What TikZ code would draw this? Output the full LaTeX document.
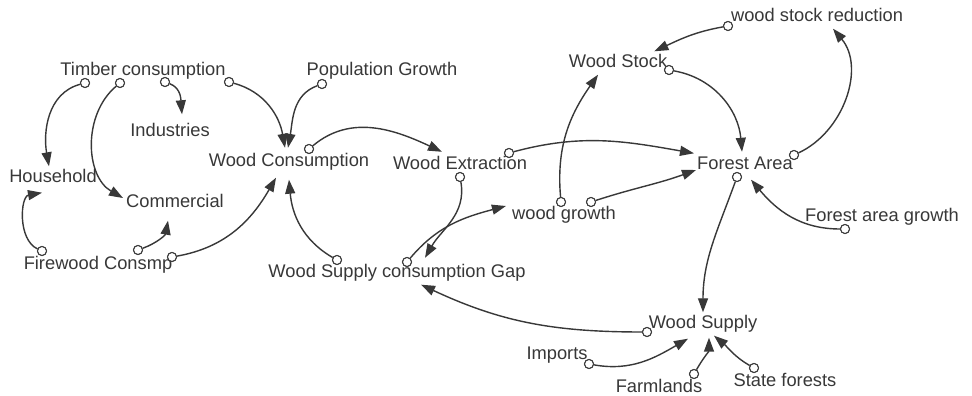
\documentclass[tikz,border=0pt]{standalone}
\usepackage{fontspec}
\setmainfont{Liberation Sans}
\usetikzlibrary{arrows.meta}
\definecolor{ink}{HTML}{383838}
\begin{document}
\begin{tikzpicture}[x=1pt,y=1pt,
  lbl/.style={font=\fontsize{18.3}{20}\selectfont, text=ink, inner sep=3pt, text height=13pt, text depth=4pt},
  dot/.style={circle, draw=ink, line width=1pt, fill=white, minimum size=9pt, inner sep=0pt},
  link/.style={draw=ink, line width=1.4pt, -{Triangle[length=14pt,width=10pt]}}]
\useasboundingbox[fill=white] (0,0) rectangle (972,396);
% variables
\node[lbl] (tc)   at (143,325) {Timber consumption};
\node[lbl] (ind)  at (170,264) {Industries};
\node[lbl] (hh)   at (53,218)  {Household};
\node[lbl] (com)  at (175,193) {Commercial};
\node[lbl] (fw)   at (98,131)  {Firewood Consmp};
\node[lbl] (wc)   at (289,234) {Wood Consumption};
\node[lbl] (pg)   at (382,325) {Population Growth};
\node[lbl] (we)   at (460,231) {Wood Extraction};
\node[lbl] (wg)   at (564,181) {wood growth};
\node[lbl] (gap)  at (397,123) {Wood Supply consumption Gap};
\node[lbl] (ws)   at (618,333) {Wood Stock};
\node[lbl] (wsr)  at (817,379) {wood stock reduction};
\node[lbl] (fa)   at (745,231) {Forest Area};
\node[lbl] (fag)  at (882,179) {Forest area growth};
\node[lbl] (sup)  at (703,72)  {Wood Supply};
\node[lbl] (imp)  at (557,41)  {Imports};
\node[lbl] (farm) at (659,8)   {Farmlands};
\node[lbl] (sf)   at (785,14)  {State forests};
% connector tails
\node[dot] (c1)  at (85,313)  {};
\node[dot] (c2)  at (120,313) {};
\node[dot] (c3)  at (165,314) {};
\node[dot] (c4)  at (229,314) {};
\node[dot] (c5)  at (322,312) {};
\node[dot] (c6)  at (42,145)  {};
\node[dot] (c7)  at (138,146) {};
\node[dot] (c8)  at (172,139) {};
\node[dot] (c9)  at (337,136) {};
\node[dot] (c10) at (309,247) {};
\node[dot] (c11) at (460,219) {};
\node[dot] (c12) at (407,134) {};
\node[dot] (c13) at (509,243) {};
\node[dot] (c14) at (561,194) {};
\node[dot] (c15) at (591,194) {};
\node[dot] (c16) at (728,370) {};
\node[dot] (c17) at (669,326) {};
\node[dot] (c18) at (794,241) {};
\node[dot] (c19) at (845,167) {};
\node[dot] (c20) at (737,219) {};
\node[dot] (c21) at (647,64)  {};
\node[dot] (c22) at (589,32)  {};
\node[dot] (c23) at (694,22)  {};
\node[dot] (c24) at (754,28)  {};
% connectors
\draw[link] (c1)  to[out=195,in=100] ([xshift=-4pt]hh.north);
\draw[link] (c2)  to[out=220,in=150] ([yshift=5pt]com.west);
\draw[link] (c3)  to[out=-20,in=95]  ([xshift=12pt,yshift=6pt]ind.north);
\draw[link] (c4)  to[out=-15,in=100] ([xshift=-4pt,yshift=2.5pt]wc.north);
\draw[link] (c5)  to[out=200,in=80]  ([xshift=-1pt,yshift=2.5pt]wc.north);
\draw[link] (c6)  to[out=155,in=190] ([xshift=-11pt,yshift=-3pt]hh.south);
\draw[link] (c7)  to[out=20,in=-100] ([xshift=-7pt,yshift=-6pt]com.south);
\draw[link] (c8)  to[out=10,in=240]  ([xshift=-13pt,yshift=-4pt]wc.south);
\draw[link] (c9)  to[out=150,in=-85] ([yshift=-6pt]wc.south);
\draw[link] (c10) to[out=40,in=155]  ([xshift=-18pt,yshift=1.5pt]we.north);
\draw[link] (c11) to[out=-80,in=60]  ([xshift=28pt,yshift=3.5pt]gap.north);
\draw[link] (c12) to[out=50,in=195]  ([xshift=-3pt,yshift=9pt]wg.west);
\draw[link] (c13) to[out=15,in=170]  (fa.north west);
\draw[link] (c14) to[out=95,in=235]  ([xshift=-20pt]ws.south);
\draw[link] (c15) to[out=18,in=200]  ([xshift=2pt,yshift=-5pt]fa.west);
\draw[link] (c16) to[out=190,in=25]  ([xshift=-16pt]ws.north east);
\draw[link] (c17) to[out=-10,in=95]  ([xshift=-3pt,yshift=1.5pt]fa.north);
\draw[link] (c18) to[out=25,in=-50]  ([xshift=16pt]wsr.south);
\draw[link] (c19) to[out=180,in=-50] ([xshift=6pt,yshift=-3pt]fa.south);
\draw[link] (c20) to[out=-110,in=90] (sup.north);
\draw[link] (c21) to[out=180,in=-25] ([xshift=24pt]gap.south);
\draw[link] (c22) to[out=-10,in=210] ([xshift=-15pt,yshift=-3pt]sup.south);
\draw[link] (c23) to[out=60,in=-90]  ([xshift=6pt,yshift=-2pt]sup.south);
\draw[link] (c24) to[out=150,in=-40] ([xshift=11pt]sup.south);
% redraw tails on top
\foreach \c in {c1,c2,c3,c4,c5,c6,c7,c8,c9,c10,c11,c12,c13,c14,c15,c16,c17,c18,c19,c20,c21,c22,c23,c24}
  \draw[ink, line width=1pt, fill=white] (\c) circle (4.5pt);
\end{tikzpicture}
\end{document}
